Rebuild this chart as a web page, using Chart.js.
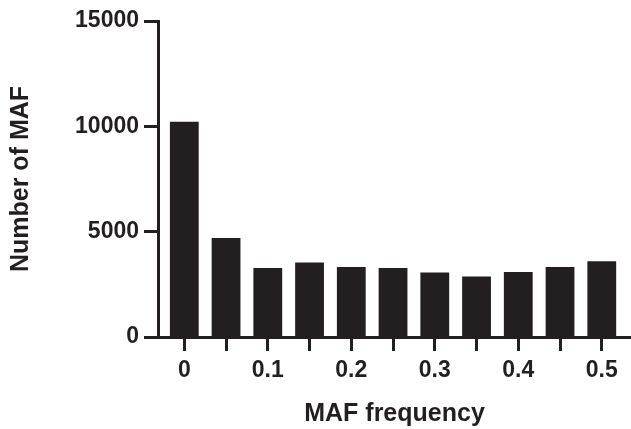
<!DOCTYPE html>
<html>
<head>
<meta charset="utf-8">
<script src="https://cdn.jsdelivr.net/npm/chart.js@4/dist/chart.umd.min.js"></script>
<style>
  html, body { margin: 0; padding: 0; background: #ffffff; }
  #wrap { width: 631px; height: 429px; }
</style>
</head>
<body>
<div id="wrap"><canvas id="c" width="631" height="429"></canvas></div>
<script>
// ---- data ----
const categories = [0, 0.05, 0.1, 0.15, 0.2, 0.25, 0.3, 0.35, 0.4, 0.45, 0.5];
const mafCounts  = [10220, 4700, 3270, 3540, 3320, 3270, 3060, 2870, 3090, 3320, 3590];
const xTickLabels = ['0', '', '0.1', '', '0.2', '', '0.3', '', '0.4', '', '0.5'];
const yTickValues = [0, 5000, 10000, 15000];
const xTitle = 'MAF frequency';
const yTitle = 'Number of MAF';

const ink = '#231f20';
const family = '"Liberation Sans", Arial, Helvetica, sans-serif';

const points = categories.map((c, i) => ({ x: c, y: mafCounts[i] }));

new Chart(document.getElementById('c'), {
  type: 'bar',
  data: {
    datasets: [{
      data: points,
      backgroundColor: ink,
      borderWidth: 0,
      barPercentage: 0.69,
      categoryPercentage: 1.0
    }]
  },
  options: {
    responsive: false,
    animation: false,
    devicePixelRatio: 1,
    layout: { padding: { top: 21, right: 0, left: 0, bottom: 0 } },
    plugins: { legend: { display: false }, tooltip: { enabled: false } },
    scales: {
      x: {
        type: 'linear',
        offset: false,
        min: -0.0315,
        max: 0.535,
        grid: {
          offset: false,
          drawOnChartArea: false,
          drawTicks: true,
          tickLength: 14,
          tickWidth: 3,
          tickColor: ink,
          color: ink
        },
        border: { display: true, color: ink, width: 3 },
        afterBuildTicks: (scale) => { scale.ticks = categories.map(v => ({ value: v })); },
        ticks: {
          autoSkip: false,
          maxRotation: 0,
          padding: 6,
          color: ink,
          font: { family, size: 23, weight: 'bold' },
          callback: (value, index) => xTickLabels[index]
        },
        title: {
          display: true,
          text: xTitle,
          color: ink,
          font: { family, size: 25, weight: 'bold', lineHeight: 1.2 },
          padding: { top: 0, bottom: 0 }
        },
        afterFit: (scale) => { scale.height = 92; }
      },
      y: {
        min: 0,
        max: 15000,
        grid: {
          drawOnChartArea: false,
          drawTicks: true,
          tickLength: 14,
          tickWidth: 3,
          tickColor: ink,
          color: ink
        },
        border: { display: true, color: ink, width: 3 },
        afterBuildTicks: (scale) => { scale.ticks = yTickValues.map(v => ({ value: v })); },
        ticks: {
          padding: 5,
          color: ink,
          font: { family, size: 23, weight: 'bold' },
          callback: (value) => String(value)
        },
        title: {
          display: true,
          text: yTitle,
          color: ink,
          font: { family, size: 25, weight: 'bold', lineHeight: 1.2 },
          padding: { top: 6, bottom: 0 }
        },
        afterFit: (scale) => { scale.width = 158; }
      }
    }
  }
});
</script>
</body>
</html>
